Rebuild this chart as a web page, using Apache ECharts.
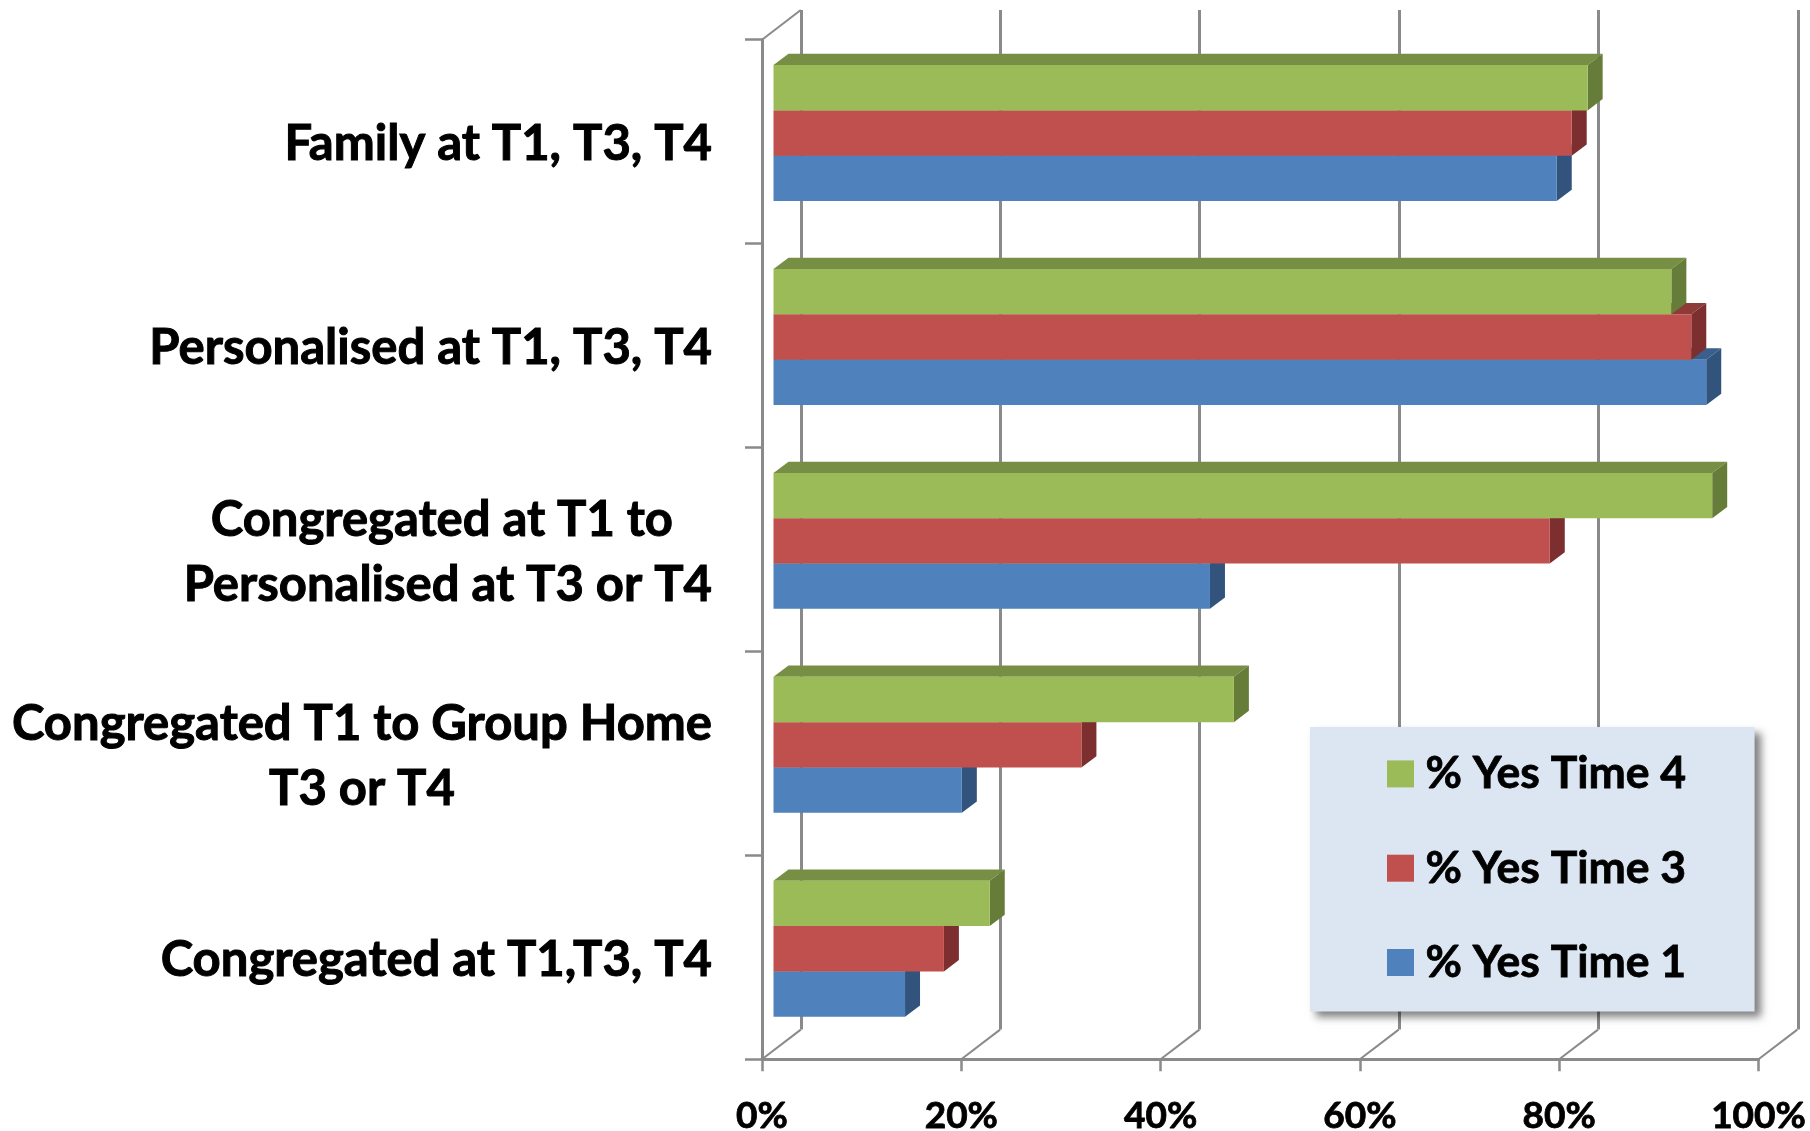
<!DOCTYPE html>
<html>
<head>
<meta charset="utf-8">
<title>Chart</title>
<style>
  html, body { margin: 0; padding: 0; background: #fff; }
  #main { width: 1810px; height: 1131px; }
</style>
<script src="https://cdn.jsdelivr.net/npm/echarts@6/dist/echarts.min.js"></script>
</head>
<body>
<div id="main"></div>
<script>
// top to bottom, as in the picture
var categories = [
  'Family at T1, T3, T4',
  'Personalised at T1, T3, T4',
  'Congregated at T1 to \nPersonalised at T3 or T4',
  'Congregated T1 to Group Home\nT3 or T4',
  'Congregated at T1,T3, T4'
];
var yesTime1 = [78.6, 93.6, 43.8, 18.9, 13.2];
var yesTime3 = [80.1, 92.1, 77.9, 30.9, 17.1];
var yesTime4 = [81.7, 90.1, 94.2, 46.2, 21.7];
var xTicks = [0, 20, 40, 60, 80, 100];

var AXIS_COLOR = '#8a8a8a';
var FONT = 'Lato';

// the fake 3d: how far the back wall sits from the front plane
var WALL_DX = 38.8, WALL_DY = 29.7;
// the bars stand a bit behind the front plane, and have their own depth
var BAR_DX = 11.5, BAR_DY = 8.6;
var DEPTH_X = 15, DEPTH_Y = 11.3;

function barSeries(name, values, slot, front, top, side) {
  return {
    name: name,
    type: 'custom',
    coordinateSystem: 'cartesian2d',
    xAxisIndex: 0,
    yAxisIndex: 0,
    clip: false,
    z: 5,
    itemStyle: { color: front },
    encode: { x: 0, y: 1 },
    data: values.map(function (v, i) { return [v, categories[i]]; }),
    renderItem: function (params, api) {
      var end = api.coord([api.value(0), params.dataIndex]);
      var start = api.coord([0, params.dataIndex]);
      var h = api.size([0, 1])[1] * 2 / 9;
      var x0 = start[0] + BAR_DX;
      var x1 = end[0] + BAR_DX;
      var y0 = end[1] - BAR_DY + (slot - 0.5) * h;
      var y1 = y0 + h;
      return {
        type: 'group',
        children: [
          { type: 'polygon', shape: { points: [[x0, y0], [x0 + DEPTH_X, y0 - DEPTH_Y], [x1 + DEPTH_X, y0 - DEPTH_Y], [x1, y0]] }, style: { fill: top } },
          { type: 'polygon', shape: { points: [[x1, y0], [x1 + DEPTH_X, y0 - DEPTH_Y], [x1 + DEPTH_X, y1 - DEPTH_Y], [x1, y1]] }, style: { fill: side } },
          { type: 'rect', shape: { x: x0, y: y0, width: x1 - x0, height: h }, style: { fill: front } }
        ]
      };
    }
  };
}

// floor diagonals, and the one on top of the left wall
var wallEdges = {
  type: 'custom',
  coordinateSystem: 'cartesian2d',
  xAxisIndex: 0,
  yAxisIndex: 0,
  clip: false,
  silent: true,
  z: 1,
  encode: { x: 0 },
  data: xTicks.map(function (v) { return [v]; }),
  renderItem: function (params, api) {
    var x = api.coord([api.value(0), 0])[0];
    var bottom = params.coordSys.y + params.coordSys.height;
    var lineStyle = { stroke: AXIS_COLOR, lineWidth: 2, fill: null };
    var children = [{
      type: 'line',
      shape: { x1: x, y1: bottom, x2: x + WALL_DX, y2: bottom - WALL_DY },
      style: lineStyle
    }];
    if (params.dataIndex === 0) {
      children.push({
        type: 'line',
        shape: { x1: x, y1: params.coordSys.y, x2: x + WALL_DX, y2: params.coordSys.y - WALL_DY },
        style: lineStyle
      });
    }
    return { type: 'group', children: children };
  }
};

var chart = echarts.init(document.getElementById('main'), null, { renderer: 'canvas' });
chart.setOption({
  animation: false,
  backgroundColor: '#fff',
  grid: [
    { left: 762, top: 39.7, width: 996.5, height: 1019.6, outerBoundsMode: 'none' },
    { left: 800.8, top: 10, width: 997.2, height: 1019.6, outerBoundsMode: 'none' }
  ],
  xAxis: [{
    type: 'value',
    gridIndex: 0,
    min: 0,
    max: 100,
    interval: 20,
    splitLine: { show: false },
    axisLine: { show: true, lineStyle: { color: AXIS_COLOR, width: 3 } },
    axisTick: { show: true, length: 12, lineStyle: { color: AXIS_COLOR, width: 2.5 } },
    axisLabel: {
      margin: 38,
      formatter: '{value}%',
      color: '#000',
      fontFamily: FONT,
      fontWeight: 'bold',
      fontSize: 37,
      textBorderColor: '#000',
      textBorderWidth: 0.8
    }
  }, {
    type: 'value',
    gridIndex: 1,
    min: 0,
    max: 100,
    interval: 20,
    axisLine: { show: false },
    axisTick: { show: false },
    axisLabel: { show: false },
    splitLine: { show: true, lineStyle: { color: AXIS_COLOR, width: 3 } }
  }],
  yAxis: [{
    type: 'category',
    gridIndex: 0,
    inverse: true,
    data: categories,
    axisLine: { show: true, lineStyle: { color: AXIS_COLOR, width: 3 } },
    axisTick: { show: true, length: 17, lineStyle: { color: AXIS_COLOR, width: 2.5 } },
    axisLabel: {
      interval: 0,
      margin: 50,
      color: '#000',
      fontFamily: FONT,
      fontWeight: 'bold',
      fontSize: 49,
      lineHeight: 65,
      padding: [6, 0, 0, 0],
      formatter: function (value) {
        return value.split('\n').map(function (s) { return '{c|' + s + '}'; }).join('\n');
      },
      rich: {
        c: {
          align: 'center',
          color: '#000',
          fontFamily: FONT,
          fontWeight: 'bold',
          fontSize: 49,
          lineHeight: 65,
          textBorderColor: '#000',
          textBorderWidth: 1
        }
      }
    }
  }, {
    type: 'category',
    gridIndex: 1,
    inverse: true,
    data: categories,
    show: false
  }],
  legend: {
    orient: 'vertical',
    left: 1310,
    top: 727,
    padding: [24, 68, 26, 77],
    itemWidth: 27,
    itemHeight: 27,
    itemGap: 48.5,
    icon: 'rect',
    backgroundColor: '#DCE6F2',
    shadowColor: 'rgba(0,0,0,0.5)',
    shadowBlur: 8,
    shadowOffsetX: 6,
    shadowOffsetY: 6,
    textStyle: {
      color: '#000',
      fontFamily: FONT,
      fontWeight: 'bold',
      fontSize: 44.5,
      textBorderColor: '#000',
      textBorderWidth: 0.8,
      padding: [0, 0, 0, 6.5]
    },
    data: ['% Yes Time 4', '% Yes Time 3', '% Yes Time 1']
  },
  series: [
    wallEdges,
    barSeries('% Yes Time 1', yesTime1, 1, '#4F81BD', '#3A5F8C', '#32547C'),
    barSeries('% Yes Time 3', yesTime3, 0, '#C0504D', '#8E3A38', '#7C2F2E'),
    barSeries('% Yes Time 4', yesTime4, -1, '#9BBB59', '#778F45', '#667C39')
  ]
});
</script>
</body>
</html>
